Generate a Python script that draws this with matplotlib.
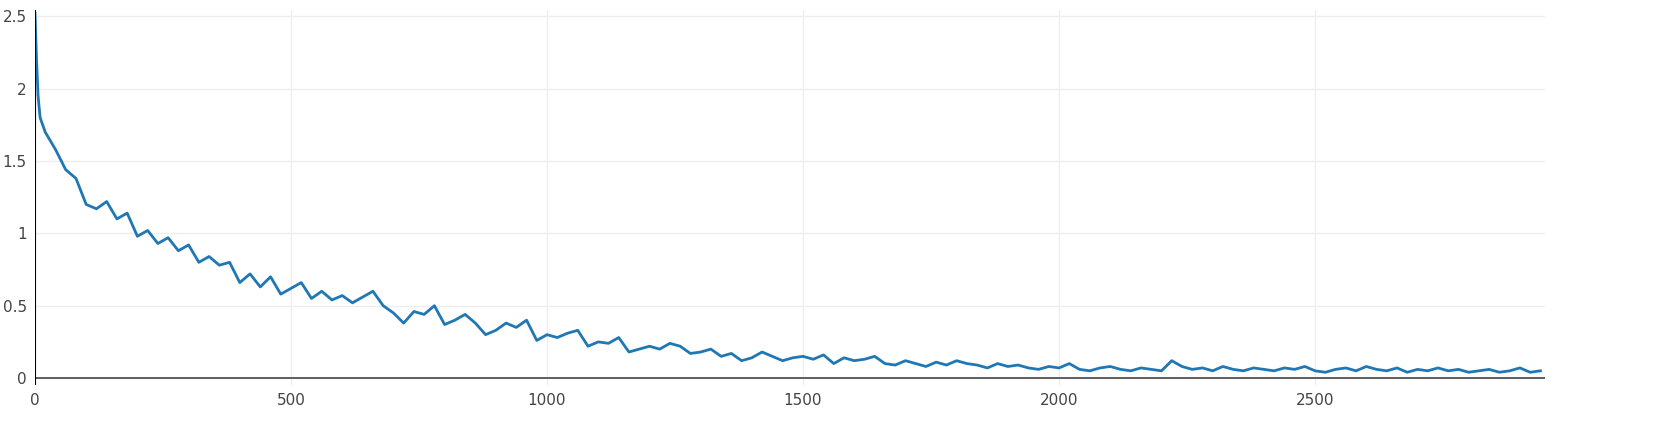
import matplotlib.pyplot as plt

# first few steps, then every 20 steps
steps = [0, 3, 6, 10, 15] + list(range(20, 2960, 20))
loss = [2.52, 2.2, 1.95, 1.8, 1.75,
        1.70, 1.58, 1.44, 1.38, 1.20, 1.17, 1.22, 1.10, 1.14, 0.98,
        1.02, 0.93, 0.97, 0.88, 0.92, 0.80, 0.84, 0.78, 0.80, 0.66,
        0.72, 0.63, 0.70, 0.58, 0.62, 0.66, 0.55, 0.60, 0.54, 0.57,
        0.52, 0.56, 0.60, 0.50, 0.45, 0.38, 0.46, 0.44, 0.50, 0.37,
        0.40, 0.44, 0.38, 0.30, 0.33, 0.38, 0.35, 0.40, 0.26, 0.30,
        0.28, 0.31, 0.33, 0.22, 0.25, 0.24, 0.28, 0.18, 0.20, 0.22,
        0.20, 0.24, 0.22, 0.17, 0.18, 0.20, 0.15, 0.17, 0.12, 0.14,
        0.18, 0.15, 0.12, 0.14, 0.15, 0.13, 0.16, 0.10, 0.14, 0.12,
        0.13, 0.15, 0.10, 0.09, 0.12, 0.10, 0.08, 0.11, 0.09, 0.12,
        0.10, 0.09, 0.07, 0.10, 0.08, 0.09, 0.07, 0.06, 0.08, 0.07,
        0.10, 0.06, 0.05, 0.07, 0.08, 0.06, 0.05, 0.07, 0.06, 0.05,
        0.12, 0.08, 0.06, 0.07, 0.05, 0.08, 0.06, 0.05, 0.07, 0.06,
        0.05, 0.07, 0.06, 0.08, 0.05, 0.04, 0.06, 0.07, 0.05, 0.08,
        0.06, 0.05, 0.07, 0.04, 0.06, 0.05, 0.07, 0.05, 0.06, 0.04,
        0.05, 0.06, 0.04, 0.05, 0.07, 0.04, 0.05]

fig = plt.figure(figsize=(16.54, 4.48), dpi=100)
ax = fig.add_axes([35 / 1654, 63 / 448, 1510 / 1654, 375 / 448])
ax.plot(steps, loss, color='#1f77b4', lw=2)

ax.set_xlim(0, 2949)
ax.set_ylim(-0.048, 2.544)
ax.set_xticks([0, 500, 1000, 1500, 2000, 2500])
ax.set_yticks([0, 0.5, 1, 1.5, 2, 2.5])
ax.set_yticklabels(['0', '0.5', '1', '1.5', '2', '2.5'])
ax.grid(color='#eeeeee', lw=1)
ax.set_axisbelow(True)
for s in ax.spines.values():
    s.set_visible(False)
ax.axhline(0, color='#444444', lw=1.2)
ax.axvline(0, color='#000000', lw=1.5)
ax.tick_params(length=0, labelsize=11, labelcolor='#444444', pad=6)

fig.savefig('out.png', dpi=100)
